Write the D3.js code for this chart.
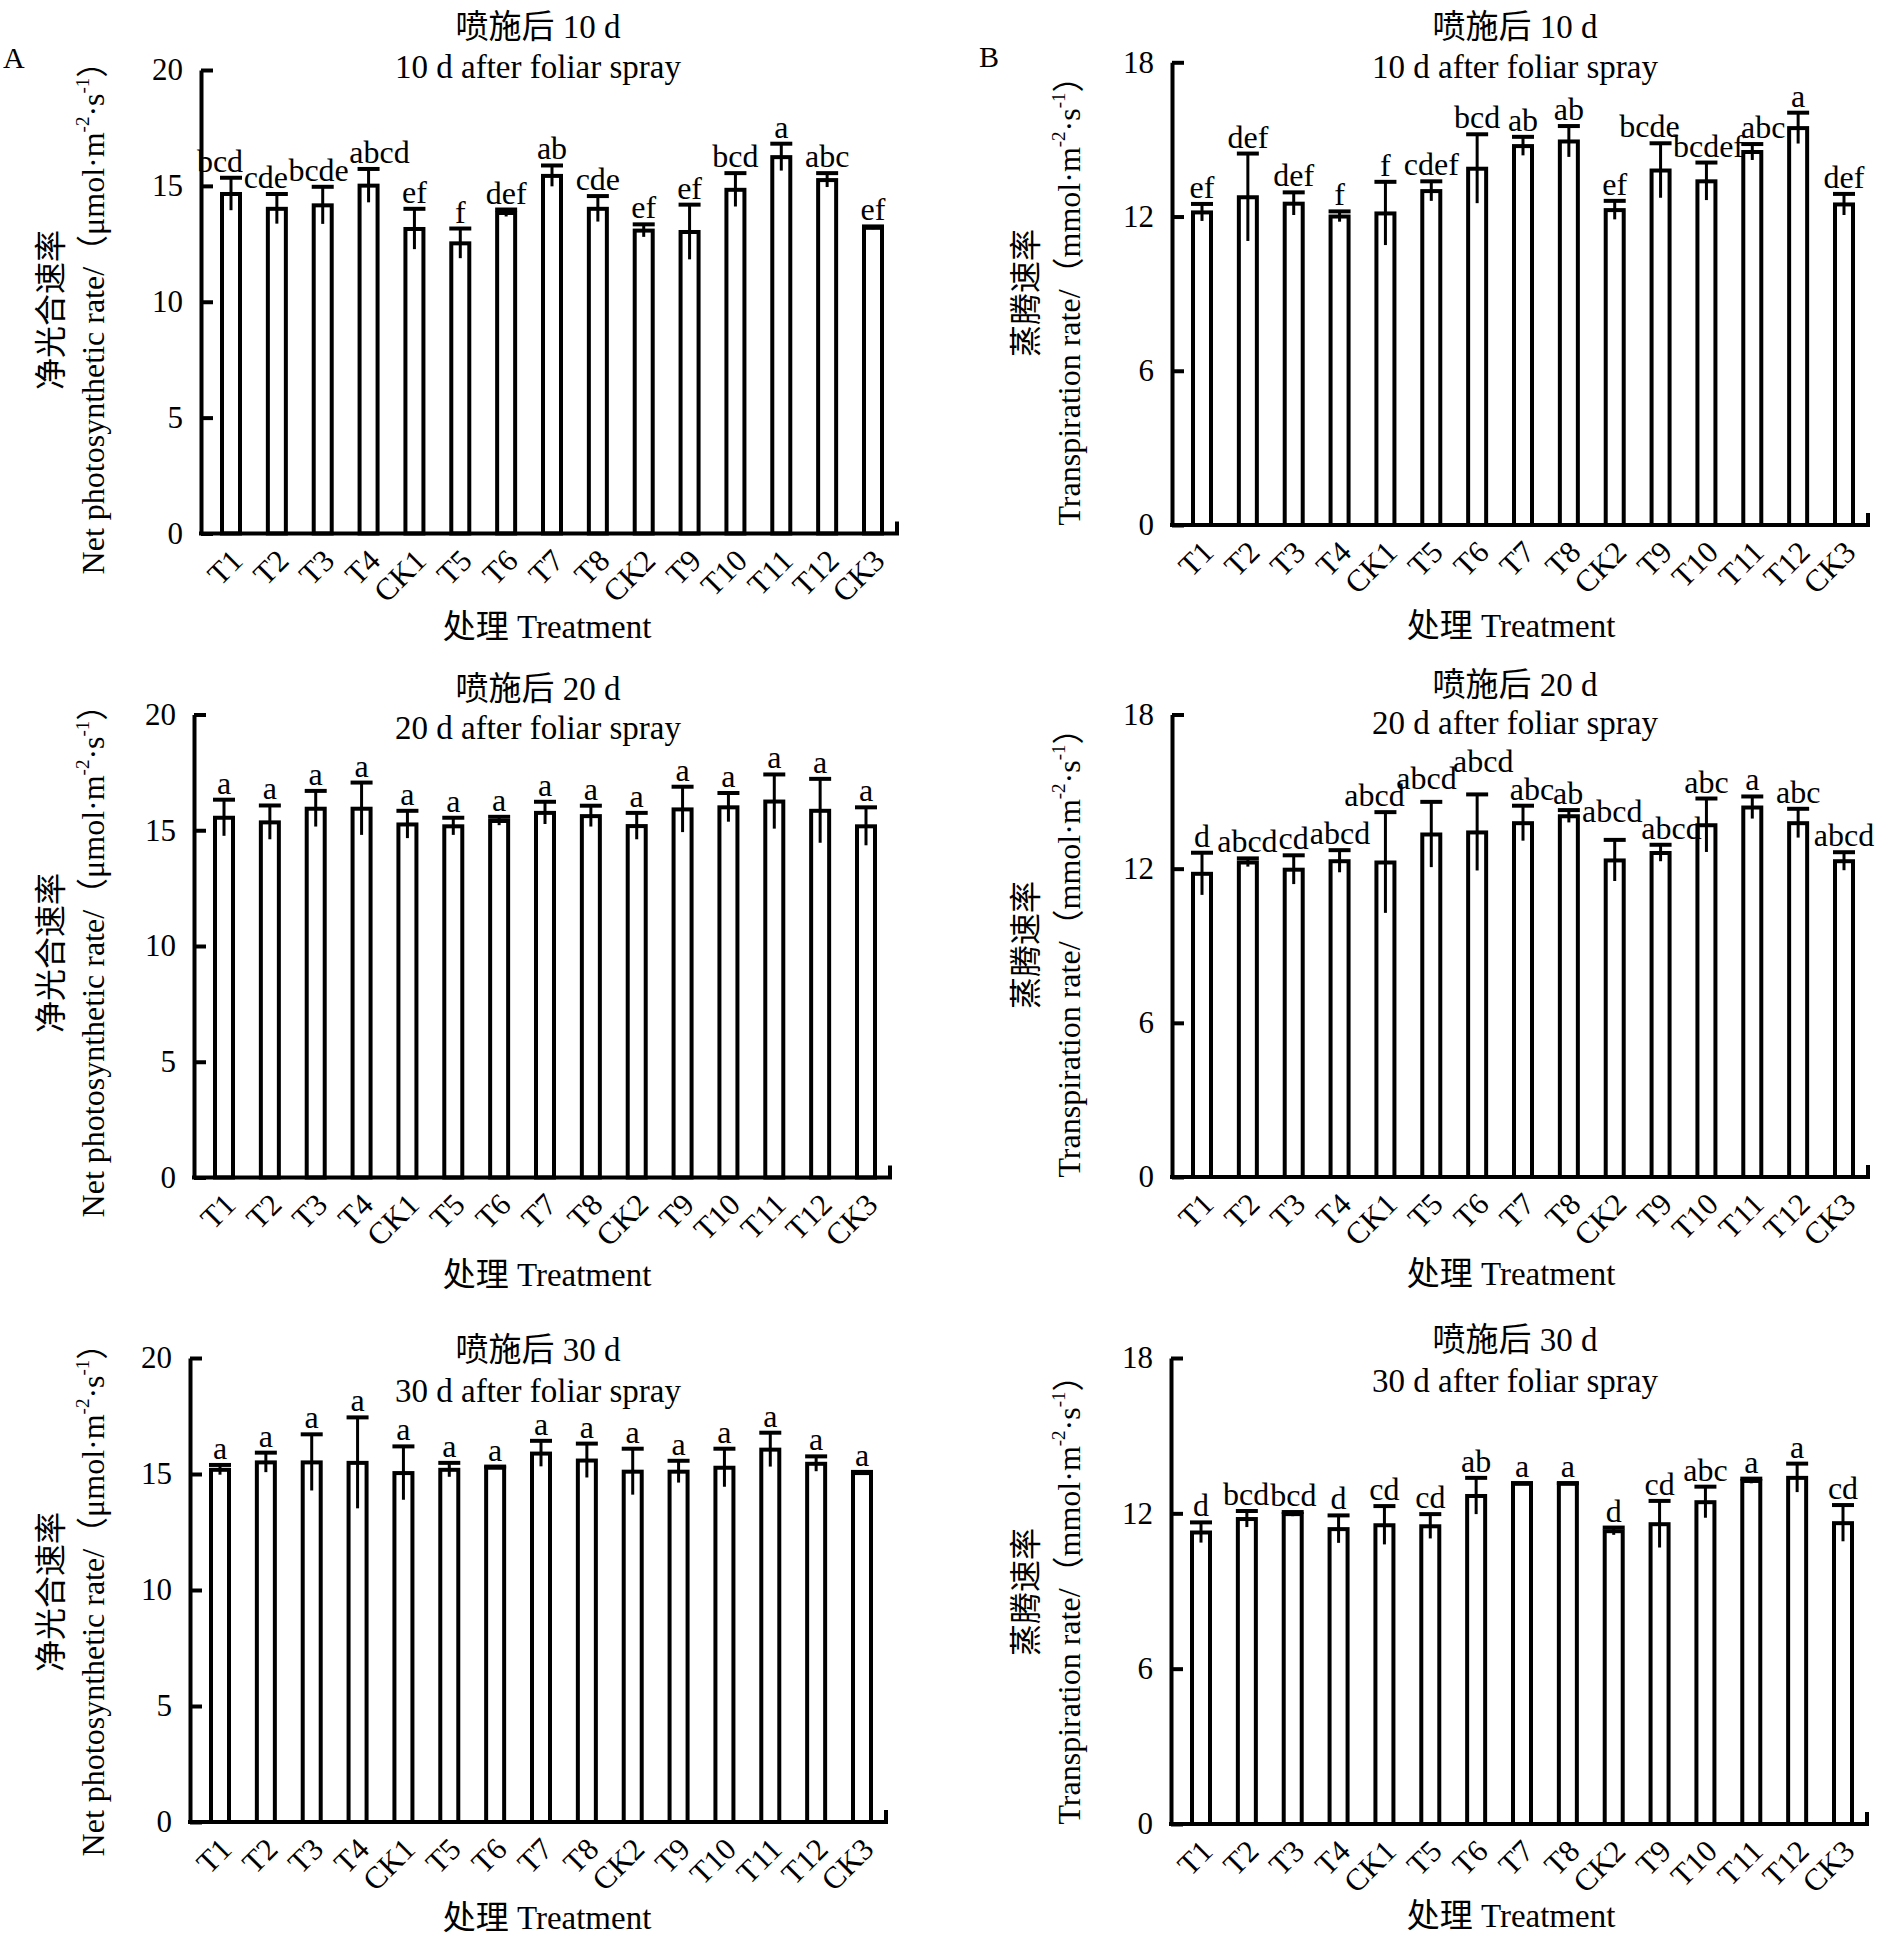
<!DOCTYPE html>
<html>
<head>
<meta charset="utf-8">
<script src="https://cdn.jsdelivr.net/npm/d3@7"></script>
<style>
body { margin: 0; background: #fff; }
text { font-family: "Liberation Serif", "Times New Roman", "Noto Sans CJK SC", serif; fill: #000; }
</style>
</head>
<body>
<svg id="chart" width="1893" height="1941"></svg>
<script>
// treatments on the x axis
var categories = ["T1", "T2", "T3", "T4", "CK1", "T5", "T6", "T7", "T8", "CK2", "T9", "T10", "T11", "T12", "CK3"];

// net photosynthetic rate (umol m-2 s-1)
var pn10 = [14.65, 14.01, 14.16, 15.01, 13.14, 12.52, 13.83, 15.43, 14.01, 13.07, 13.01, 14.83, 16.24, 15.25, 13.19];
var pn10Err = [0.70, 0.64, 0.80, 0.72, 0.87, 0.64, 0.15, 0.45, 0.55, 0.27, 1.18, 0.72, 0.58, 0.30, 0.06];
var pn10Sig = ["bcd", "cde", "bcde", "abcd", "ef", "f", "def", "ab", "cde", "ef", "ef", "bcd", "a", "abc", "ef"];

var pn20 = [15.54, 15.34, 15.93, 15.93, 15.25, 15.17, 15.40, 15.75, 15.61, 15.18, 15.90, 15.99, 16.24, 15.84, 15.17];
var pn20Err = [0.78, 0.73, 0.77, 1.13, 0.59, 0.37, 0.18, 0.48, 0.45, 0.57, 0.98, 0.62, 1.17, 1.38, 0.82];
var pn20Sig = ["a", "a", "a", "a", "a", "a", "a", "a", "a", "a", "a", "a", "a", "a", "a"];

var pn30 = [15.18, 15.50, 15.50, 15.48, 15.04, 15.18, 15.27, 15.88, 15.58, 15.10, 15.10, 15.27, 16.05, 15.44, 15.04];
var pn30Err = [0.21, 0.42, 1.21, 1.96, 1.15, 0.30, 0.05, 0.55, 0.73, 0.99, 0.47, 0.82, 0.73, 0.32, 0.05];
var pn30Sig = ["a", "a", "a", "a", "a", "a", "a", "a", "a", "a", "a", "a", "a", "a", "a"];

// transpiration rate (mmol m-2 s-1)
var tr10 = [12.16, 12.75, 12.50, 12.00, 12.12, 12.99, 13.86, 14.74, 14.92, 12.25, 13.79, 13.37, 14.51, 15.44, 12.47];
var tr10Err = [0.33, 1.70, 0.44, 0.20, 1.23, 0.38, 1.34, 0.36, 0.60, 0.36, 1.06, 0.73, 0.31, 0.60, 0.41];
var tr10Sig = ["ef", "def", "def", "f", "f", "cdef", "bcd", "ab", "ab", "ef", "bcde", "bcdef", "abc", "a", "def"];

var tr20 = [11.80, 12.24, 11.96, 12.29, 12.24, 13.33, 13.41, 13.77, 14.04, 12.32, 12.61, 13.69, 14.38, 13.77, 12.29];
var tr20Err = [0.82, 0.16, 0.56, 0.43, 1.96, 1.27, 1.48, 0.68, 0.24, 0.80, 0.32, 1.04, 0.43, 0.56, 0.35];
var tr20Sig = ["d", "abcd", "cd", "abcd", "abcd", "abcd", "abcd", "abc", "ab", "abcd", "abcd", "abc", "a", "abc", "abcd"];

var tr30 = [11.26, 11.78, 11.97, 11.39, 11.54, 11.50, 12.67, 13.14, 13.14, 11.31, 11.58, 12.43, 13.25, 13.37, 11.62];
var tr30Err = [0.39, 0.31, 0.08, 0.53, 0.74, 0.47, 0.70, 0.03, 0.03, 0.14, 0.90, 0.60, 0.09, 0.55, 0.70];
var tr30Sig = ["d", "bcd", "bcd", "d", "cd", "cd", "ab", "a", "a", "d", "cd", "abc", "a", "a", "cd"];

// axis ticks
var pnTicks = [0, 5, 10, 15, 20];
var trTicks = [0, 6, 12, 18];

var svg = d3.select("#chart");

function yTitle(g, cx1, cx2, cy, zh, en, unit) {
    g.append("text")
        .attr("transform", "translate(" + cx1 + "," + cy + ") rotate(-90)")
        .attr("text-anchor", "middle").attr("dominant-baseline", "central")
        .attr("font-size", 32).text(zh);
    var t = g.append("text")
        .attr("transform", "translate(" + cx2 + "," + cy + ") rotate(-90)")
        .attr("text-anchor", "middle").attr("dominant-baseline", "central")
        .attr("font-size", 32);
    t.append("tspan").text(en + "/\uFF08" + unit + "\u00B7m");
    t.append("tspan").attr("dy", -11).attr("font-size", 19).text("-2");
    t.append("tspan").attr("dy", 11).text("\u00B7s");
    t.append("tspan").attr("dy", -11).attr("font-size", 19).text("-1");
    t.append("tspan").attr("dy", 11).text("\uFF09");
}

function drawPanel(p) {
    var g = svg.append("g");
    var y = d3.scaleLinear().domain([0, p.max]).range([p.bottom, p.top]);
    var x = d3.scalePoint().domain(categories).range([p.left + 30, p.right - 24]);

    // bars
    g.selectAll("rect.bar").data(p.values).join("rect")
        .attr("class", "bar")
        .attr("x", function(d, i){ return x(categories[i]) - 9; })
        .attr("width", 18)
        .attr("y", function(d){ return y(d); })
        .attr("height", function(d){ return p.bottom - y(d); })
        .attr("fill", "#fff").attr("stroke", "#000").attr("stroke-width", 4);

    // error bars (upper cap only)
    g.selectAll("line.err").data(p.values).join("line")
        .attr("class", "err")
        .attr("x1", function(d, i){ return x(categories[i]); })
        .attr("x2", function(d, i){ return x(categories[i]); })
        .attr("y1", function(d, i){ return y(d - p.err[i]); })
        .attr("y2", function(d, i){ return y(d + p.err[i]); })
        .attr("stroke", "#000").attr("stroke-width", 3);
    g.selectAll("line.cap").data(p.values).join("line")
        .attr("class", "cap")
        .attr("x1", function(d, i){ return x(categories[i]) - 11; })
        .attr("x2", function(d, i){ return x(categories[i]) + 11; })
        .attr("y1", function(d, i){ return y(d + p.err[i]); })
        .attr("y2", function(d, i){ return y(d + p.err[i]); })
        .attr("stroke", "#000").attr("stroke-width", 4);

    // significance letters: pushed up when they sit on a neighbour,
    // then nudged sideways a little where they still touch
    var labels = g.selectAll("text.sig").data(p.sig).join("text")
        .attr("class", "sig")
        .attr("text-anchor", "middle").attr("font-size", 32)
        .attr("x", function(d, i){ return x(categories[i]); })
        .text(function(d){ return d; });
    var info = [];
    labels.each(function(d, i){
        info.push({i: i, xc: x(categories[i]), x0: x(categories[i]), w: this.getComputedTextLength(),
                   b: y(p.values[i] + p.err[i]) - 6, node: this});
    });
    var order = info.slice().sort(function(a, b){ return b.b - a.b; });
    var placed = [];
    order.forEach(function(l){
        var moved = true;
        while (moved) {
            moved = false;
            placed.forEach(function(q){
                var hov = Math.min(l.xc + l.w/2, q.xc + q.w/2) - Math.max(l.xc - l.w/2, q.xc - q.w/2);
                if (hov > 10 && Math.abs(l.b - q.b) < 17) {
                    l.b = q.b - 17;
                    moved = true;
                }
            });
        }
        placed.push(l);
    });
    for (var it = 0; it < 30; it++) {
        for (var k = 0; k < info.length - 1; k++) {
            var a = info[k], c = info[k + 1];
            if (Math.abs(a.b - c.b) > 36) continue;
            var ov = (a.xc + a.w/2 + 1) - (c.xc - c.w/2);
            if (ov > 0) {
                a.xc = Math.max(a.x0 - 11, a.xc - ov/2);
                c.xc = Math.min(c.x0 + 11, c.xc + ov/2);
            }
        }
    }
    info.forEach(function(l){
        d3.select(l.node).attr("x", l.xc).attr("y", l.b);
    });

    // y axis, ticks pointing inward
    var ya = g.append("g").attr("transform", "translate(" + p.left + ",0)")
        .call(d3.axisLeft(y).tickValues(p.ticks).tickSizeInner(-12).tickSizeOuter(0).tickPadding(18));
    ya.attr("font-size", 31).attr("font-family", null);
    ya.select(".domain").attr("stroke-width", 4);
    ya.selectAll(".tick line").attr("stroke-width", 4);
    ya.selectAll(".tick text").attr("fill", "#000");

    // x axis with rotated labels
    var xa = g.append("g").attr("transform", "translate(0," + p.bottom + ")")
        .call(d3.axisBottom(x).tickSize(0).tickPadding(0));
    xa.attr("font-size", 31).attr("font-family", null);
    xa.select(".domain").remove();
    xa.selectAll(".tick text")
        .attr("x", 0).attr("y", 0).attr("dy", null)
        .attr("text-anchor", "end")
        .attr("transform", "translate(13,29) rotate(-45)")
        .attr("fill", "#000");
    g.append("path")
        .attr("d", "M" + (p.left - 2) + "," + p.bottom + "H" + p.right + "V" + (p.bottom - 12))
        .attr("fill", "none").attr("stroke", "#000").attr("stroke-width", 4);

    // titles
    g.append("text").attr("x", p.titleX).attr("y", p.t1)
        .attr("text-anchor", "middle").attr("dominant-baseline", "central")
        .attr("font-size", 33).text("喷施后 " + p.day + " d");
    g.append("text").attr("x", p.titleX).attr("y", p.t2)
        .attr("text-anchor", "middle").attr("dominant-baseline", "central")
        .attr("font-size", 33).text(p.day + " d after foliar spray");
    g.append("text").attr("x", p.xtX).attr("y", p.xtY)
        .attr("text-anchor", "middle").attr("dominant-baseline", "central")
        .attr("font-size", 33).text("处理 Treatment");

    if (p.pn) {
        yTitle(g, 51, 93, p.ytY, "净光合速率", "Net photosynthetic rate", "\u03BCmol");
    } else {
        yTitle(g, 1026, 1069, p.ytY, "蒸腾速率", "Transpiration rate", "mmol");
    }
}

var panels = [
    {pn: true, day: 10, values: pn10, err: pn10Err, sig: pn10Sig, max: 20, ticks: pnTicks,
     left: 201, right: 897, top: 70, bottom: 533.5, t1: 27, t2: 67, titleX: 538, xtX: 547, xtY: 627, ytY: 310},
    {pn: true, day: 20, values: pn20, err: pn20Err, sig: pn20Sig, max: 20, ticks: pnTicks,
     left: 194, right: 890, top: 714.5, bottom: 1177.5, t1: 689, t2: 728, titleX: 538, xtX: 547, xtY: 1275, ytY: 953},
    {pn: true, day: 30, values: pn30, err: pn30Err, sig: pn30Sig, max: 20, ticks: pnTicks,
     left: 190, right: 886, top: 1358, bottom: 1822, t1: 1350, t2: 1391, titleX: 538, xtX: 547, xtY: 1918, ytY: 1592},
    {pn: false, day: 10, values: tr10, err: tr10Err, sig: tr10Sig, max: 18, ticks: trTicks,
     left: 1172, right: 1868, top: 62.3, bottom: 525, t1: 27, t2: 67, titleX: 1515, xtX: 1511, xtY: 626, ytY: 293},
    {pn: false, day: 20, values: tr20, err: tr20Err, sig: tr20Sig, max: 18, ticks: trTicks,
     left: 1172, right: 1868, top: 714.5, bottom: 1177, t1: 685, t2: 723, titleX: 1515, xtX: 1511, xtY: 1274, ytY: 945},
    {pn: false, day: 30, values: tr30, err: tr30Err, sig: tr30Sig, max: 18, ticks: trTicks,
     left: 1171, right: 1867, top: 1358, bottom: 1824, t1: 1340, t2: 1381, titleX: 1515, xtX: 1511, xtY: 1916, ytY: 1592}
];

panels.forEach(drawPanel);

// panel letters
svg.append("text").attr("x", 3).attr("y", 68).attr("font-size", 30).text("A");
svg.append("text").attr("x", 979).attr("y", 67).attr("font-size", 30).text("B");
</script>
</body>
</html>
